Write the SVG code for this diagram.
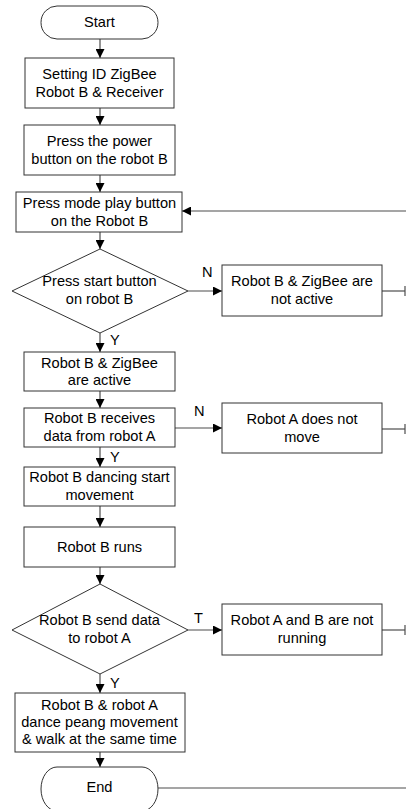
<svg xmlns="http://www.w3.org/2000/svg" width="406" height="809" viewBox="0 0 406 809">
<style>
.box{fill:#fff;stroke:#333;stroke-width:1}
.ln{fill:none;stroke:#4d4d4d;stroke-width:1.2}
text{font-family:"Liberation Sans",Arial,sans-serif;font-size:14.6px;fill:#000;text-anchor:middle}
.lbl{text-anchor:start}
</style>
<defs>
<marker id="ah" viewBox="0 0 10 10" refX="10" refY="5" markerWidth="9" markerHeight="9" markerUnits="userSpaceOnUse" orient="auto">
<path d="M0,0 L10,5 L0,10 z" fill="#000"/>
</marker>
</defs>
<rect width="406" height="809" fill="#fff"/>
<g id="connectors">
<line class="ln" x1="100" y1="39" x2="100" y2="58" marker-end="url(#ah)"/>
<line class="ln" x1="100" y1="108" x2="100" y2="125" marker-end="url(#ah)"/>
<line class="ln" x1="100" y1="175" x2="100" y2="192" marker-end="url(#ah)"/>
<line class="ln" x1="100" y1="232" x2="100" y2="249" marker-end="url(#ah)"/>
<line class="ln" x1="406" y1="211" x2="182" y2="211" marker-end="url(#ah)"/>
<line class="ln" x1="188" y1="291" x2="222" y2="291" marker-end="url(#ah)"/>
<line class="ln" x1="382" y1="291" x2="405" y2="291"/>
<line class="ln" x1="405" y1="286" x2="405" y2="296"/>
<line class="ln" x1="100" y1="333" x2="100" y2="352" marker-end="url(#ah)"/>
<line class="ln" x1="100" y1="391" x2="100" y2="408" marker-end="url(#ah)"/>
<line class="ln" x1="175" y1="428" x2="222" y2="428" marker-end="url(#ah)"/>
<line class="ln" x1="382" y1="429" x2="405" y2="429"/>
<line class="ln" x1="405" y1="424" x2="405" y2="434"/>
<line class="ln" x1="100" y1="447" x2="100" y2="467" marker-end="url(#ah)"/>
<line class="ln" x1="100" y1="506" x2="100" y2="527" marker-end="url(#ah)"/>
<line class="ln" x1="100" y1="567" x2="100" y2="584" marker-end="url(#ah)"/>
<line class="ln" x1="188" y1="630" x2="222" y2="630" marker-end="url(#ah)"/>
<line class="ln" x1="382" y1="630" x2="405" y2="630"/>
<line class="ln" x1="405" y1="625" x2="405" y2="635"/>
<line class="ln" x1="100" y1="674" x2="100" y2="693" marker-end="url(#ah)"/>
<line class="ln" x1="100" y1="752" x2="100" y2="767" marker-end="url(#ah)"/>
<line class="ln" x1="158" y1="788" x2="406" y2="788"/>
<text class="lbl" x="202" y="277">N</text>
<text class="lbl" x="110" y="345">Y</text>
<text class="lbl" x="194" y="416">N</text>
<text class="lbl" x="110" y="462">Y</text>
<text class="lbl" x="194" y="623">T</text>
<text class="lbl" x="110" y="688">Y</text>
</g>
<g id="start">
<rect class="box" x="41" y="6" width="117" height="33" rx="16" ry="16.5"/>
<text x="99.5" y="27">Start</text>
</g>
<g id="setting">
<rect class="box" x="25" y="58" width="149" height="50"/>
<text x="99.5" y="79">Setting ID ZigBee</text>
<text x="99.5" y="97">Robot B &amp; Receiver</text>
</g>
<g id="power">
<rect class="box" x="24" y="125" width="151" height="50"/>
<text x="99.5" y="146">Press the power</text>
<text x="99.5" y="164">button on the robot B</text>
</g>
<g id="mode">
<rect class="box" x="16" y="192" width="166" height="40"/>
<text x="99.5" y="208">Press mode play button</text>
<text x="99.5" y="226">on the Robot B</text>
</g>
<g id="startbutton">
<polygon class="box" points="100,249 188,291 100,333 12,291"/>
<text x="99.5" y="286">Press start button</text>
<text x="99.5" y="304">on robot B</text>
</g>
<g id="notactive">
<rect class="box" x="222" y="265" width="160" height="51"/>
<text x="302" y="286">Robot B &amp; ZigBee are</text>
<text x="302" y="304">not active</text>
</g>
<g id="active">
<rect class="box" x="24" y="352" width="151" height="39"/>
<text x="99.5" y="367.5">Robot B &amp; ZigBee</text>
<text x="99.5" y="385">are active</text>
</g>
<g id="receives">
<rect class="box" x="24" y="408" width="151" height="39"/>
<text x="99.5" y="423">Robot B receives</text>
<text x="99.5" y="441">data from robot A</text>
</g>
<g id="notmove">
<rect class="box" x="222" y="403" width="160" height="50"/>
<text x="302" y="424">Robot A does not</text>
<text x="302" y="442">move</text>
</g>
<g id="dancing">
<rect class="box" x="24" y="467" width="151" height="39"/>
<text x="99.5" y="482">Robot B dancing start</text>
<text x="99.5" y="500">movement</text>
</g>
<g id="runs">
<rect class="box" x="24" y="527" width="151" height="40"/>
<text x="99.5" y="552">Robot B runs</text>
</g>
<g id="senddata">
<polygon class="box" points="100,584 188,630 100,674 12,630"/>
<text x="99.5" y="625">Robot B send data</text>
<text x="99.5" y="643">to robot A</text>
</g>
<g id="notrunning">
<rect class="box" x="222" y="604" width="160" height="51"/>
<text x="302" y="625">Robot A and B are not</text>
<text x="302" y="643">running</text>
</g>
<g id="dance">
<rect class="box" x="15" y="693" width="170" height="59"/>
<text x="99.5" y="710">Robot B &amp; robot A</text>
<text x="99.5" y="727">dance peang movement</text>
<text x="99.5" y="744">&amp; walk at the same time</text>
</g>
<g id="end">
<rect class="box" x="41" y="767" width="117" height="44" rx="16" ry="22"/>
<text x="99.5" y="792">End</text>
</g>
</svg>
